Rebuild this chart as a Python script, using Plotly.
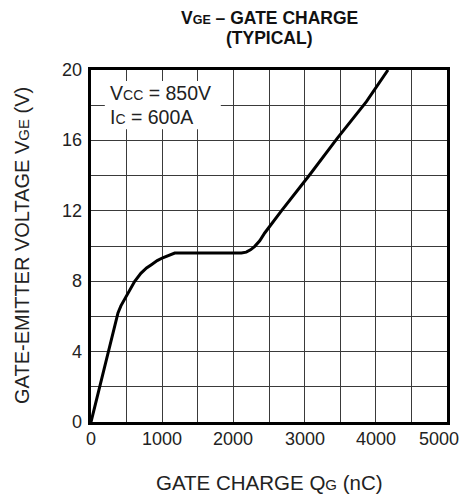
import plotly.graph_objects as go

# Gate charge curve (nC) vs gate-emitter voltage (V)
qg_nc = [0, 379, 420, 480, 544, 614, 700, 780, 848, 930, 1007, 1100, 1176, 1500, 1800, 2112,
         2180, 2240, 2300, 2370, 2440, 2520, 2674, 3072, 3455, 3868, 4171]
vge_v = [0, 6.2, 6.6, 7.05, 7.52, 7.99, 8.45, 8.75, 8.94, 9.17, 9.33, 9.5, 9.6, 9.6, 9.6, 9.6,
         9.65, 9.78, 9.98, 10.3, 10.74, 11.18, 12.0, 14.05, 16.1, 18.2, 20.0]

x_ticks = [0, 1000, 2000, 3000, 4000, 5000]
y_ticks = [0, 4, 8, 12, 16, 20]

FONT = "Liberation Sans, Arial, sans-serif"
W, H = 460, 489
L, R, T, B = 83, 21, 62, 74.5
PH = H - T - B
PW = W - L - R
BOTTOM = H - B  # plot bottom in figure pixels

fig = go.Figure()
fig.add_trace(go.Scatter(x=qg_nc, y=vge_v, mode="lines",
                         line=dict(color="black", width=3),
                         showlegend=False, hoverinfo="skip"))

grid = dict(showgrid=True, gridcolor="#3a3a3a", gridwidth=1)
fig.update_xaxes(range=[0, 5000], tickvals=x_ticks, ticks="", **grid,
                 minor=dict(dtick=500, showgrid=True, gridcolor="#3a3a3a", gridwidth=1),
                 showline=True, linecolor="black", linewidth=3, mirror=True,
                 zeroline=False, showticklabels=False, automargin=False)
fig.update_yaxes(range=[0, 20], tickvals=y_ticks, ticks="", **grid,
                 minor=dict(dtick=2, showgrid=True, gridcolor="#3a3a3a", gridwidth=1),
                 showline=True, linecolor="black", linewidth=3, mirror=True,
                 zeroline=False, showticklabels=False, automargin=False)

tickfont = dict(size=18, color="#222", family=FONT)
for i, v in enumerate(x_ticks):
    fig.add_annotation(xref="x", yref="paper", x=v, y=-(431.5 - BOTTOM) / PH,
                       xanchor="center", yanchor="middle", showarrow=False,
                       xshift=-8 if i == len(x_ticks) - 1 else 0,
                       text=str(v), font=tickfont)
for v in y_ticks:
    fig.add_annotation(xref="paper", yref="y", x=-(L - 76) / PW, y=v,
                       xanchor="right", yanchor="middle", showarrow=False,
                       text=str(v), font=tickfont)

# axis titles
fig.add_annotation(xref="paper", yref="paper", x=0.5, y=-(475 - BOTTOM) / PH,
                   yanchor="middle", xanchor="center", showarrow=False,
                   text="GATE CHARGE Q<span style='font-size:15px'>G</span> (nC)",
                   font=dict(size=20.5, color="#222", family=FONT))
fig.add_annotation(xref="paper", yref="paper", x=-(L - 14) / PW, y=0.5,
                   xanchor="center", yanchor="middle", textangle=-90, showarrow=False,
                   text="GATE-EMITTER VOLTAGE V<span style='font-size:15px'>GE</span> (V)",
                   font=dict(size=20, color="#222", family=FONT))

# title (two lines placed separately)
tfont = dict(size=17.5, color="#111", family=FONT)
fig.add_annotation(xref="paper", yref="paper", x=0.5, y=1 + (T - 10) / PH,
                   xanchor="center", yanchor="middle", showarrow=False,
                   text="<b>V<span style='font-size:12.5px'>GE</span> – GATE CHARGE</b>", font=tfont)
fig.add_annotation(xref="paper", yref="paper", x=0.5, y=1 + (T - 30) / PH,
                   xanchor="center", yanchor="middle", showarrow=False,
                   text="<b>(TYPICAL)</b>", font=tfont)

# condition box
fig.add_shape(type="rect", xref="x", yref="y", x0=194, x1=1823, y0=16.64, y1=19.38,
              fillcolor="white", line=dict(width=0), layer="above")
bfont = dict(size=19.5, color="#222", family=FONT)
fig.add_annotation(xref="x", yref="y", x=245, y=18.68, xanchor="left", yanchor="middle",
                   showarrow=False, font=bfont,
                   text="V<span style='font-size:14px'>CC</span> = 850V")
fig.add_annotation(xref="x", yref="y", x=245, y=17.35, xanchor="left", yanchor="middle",
                   showarrow=False, font=bfont,
                   text="I<span style='font-size:14px'>C</span> = 600A")

fig.update_layout(
    width=W, height=H,
    margin=dict(l=L, r=R, t=T, b=B, autoexpand=False),
    paper_bgcolor="white", plot_bgcolor="white",
    font=dict(family=FONT, color="#222"),
)

fig.write_html("out.html")
